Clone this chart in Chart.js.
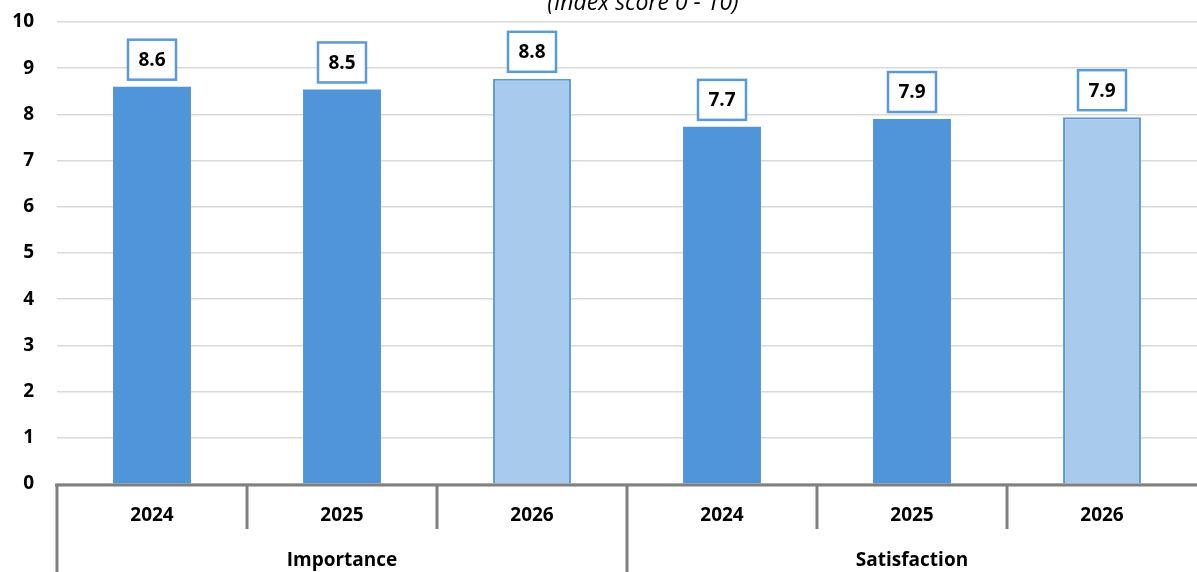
<!DOCTYPE html>
<html><head><meta charset="utf-8">
<script src="https://cdn.jsdelivr.net/npm/chart.js@4"></script>
<style>html,body{margin:0;padding:0;background:#fff;}#wrap{width:1197px;height:572px;}</style>
</head><body><div id="wrap"><canvas id="c" width="1197" height="572"></canvas></div>
<script>
const years = ['2024','2025','2026','2024','2025','2026'];
const groups = ['Importance','Satisfaction'];
const values = [8.6, 8.54, 8.77, 7.73, 7.9, 7.94];
const yTicks = [0,1,2,3,4,5,6,7,8,9,10];
const title = '(Index score 0 - 10)';

const DARK = '#5094D9', LIGHT = '#A8CAEC';
const fills = years.map(y => y === '2026' ? LIGHT : DARK);

const FONT = '"Open Sans", Lato, sans-serif';

const deco = {
  id: 'deco',
  afterDatasetsDraw(chart) {
    const ctx = chart.ctx;
    const meta = chart.getDatasetMeta(0);
    ctx.save();
    meta.data.forEach((bar, i) => {
      const w = 48, h = 40;
      const x = bar.x - w/2, yb = bar.y - 7, y = yb - h;
      ctx.fillStyle = '#fff';
      ctx.fillRect(x, y, w, h);
      ctx.strokeStyle = '#5B9BD5';
      ctx.lineWidth = 2.5;
      ctx.strokeRect(x, y, w, h);
      ctx.fillStyle = '#000';
      ctx.font = 'bold 19px ' + FONT;
      ctx.textAlign = 'center';
      ctx.textBaseline = 'middle';
      ctx.fillText(values[i].toFixed(1), bar.x, y + h/2 + 1);
    });
    ctx.restore();
  },
  afterDraw(chart) {
    const ctx = chart.ctx;
    const xs = chart.scales.x;
    const area = chart.chartArea;
    const n = years.length;
    const cw = (area.right - area.left) / n;
    ctx.save();
    ctx.strokeStyle = '#808080';
    ctx.lineWidth = 3;
    ctx.beginPath();
    ctx.moveTo(area.left - 2, area.bottom + 1);
    ctx.lineTo(area.right, area.bottom + 1);
    ctx.stroke();
    for (let i = 0; i < n; i++) {
      const x = area.left + i * cw;
      const long = (i % 3 === 0);
      ctx.beginPath();
      ctx.moveTo(x, area.bottom);
      ctx.lineTo(x, long ? 572 : area.bottom + 45);
      ctx.stroke();
    }
    ctx.fillStyle = '#000';
    ctx.font = 'bold 19px ' + FONT;
    ctx.textAlign = 'center';
    ctx.textBaseline = 'middle';
    years.forEach((y, i) => {
      ctx.fillText(y, xs.getPixelForValue(i), area.bottom + 32);
    });
    groups.forEach((g, gi) => {
      const cx = area.left + (gi * 3 + 1.5) * cw;
      ctx.fillText(g, cx, area.bottom + 77);
    });
    ctx.font = 'italic 23px ' + FONT;
    ctx.textBaseline = 'alphabetic';
    ctx.fillText(title, 643, 10);
    ctx.restore();
  }
};

new Chart(document.getElementById('c'), {
  type: 'bar',
  data: {
    labels: years.map((y, i) => groups[Math.floor(i/3)] + ' ' + y),
    datasets: [{
      data: values,
      backgroundColor: fills,
      borderColor: years.map(y => y === '2026' ? '#5B9BD5' : DARK),
      borderWidth: years.map(y => y === '2026' ? 2 : 0),
      borderSkipped: 'bottom',
      categoryPercentage: 1,
      barPercentage: 0.41
    }]
  },
  options: {
    responsive: false,
    animation: false,
    layout: { padding: { top: 22, right: 0, left: 0, bottom: 0 } },
    plugins: { legend: { display: false }, tooltip: { enabled: false }, title: { display: false } },
    scales: {
      x: {
        grid: { display: false },
        border: { display: false },
        ticks: { display: false },
        afterFit(s) { s.height = 88; s.paddingLeft = 0; s.paddingRight = 0; }
      },
      y: {
        min: 0, max: 10,
        afterBuildTicks(s) { s.ticks = yTicks.map(v => ({ value: v })); },
        grid: { color: '#D9D9D9', lineWidth: 1.5, drawTicks: false },
        border: { display: false },
        ticks: { color: '#000', font: { family: FONT, weight: 'bold', size: 19 }, padding: 23 },
        afterFit(s) { s.width = 57; s.paddingTop = 0; s.paddingBottom = 0; }
      }
    }
  },
  plugins: [deco]
});
</script>
</body></html>
